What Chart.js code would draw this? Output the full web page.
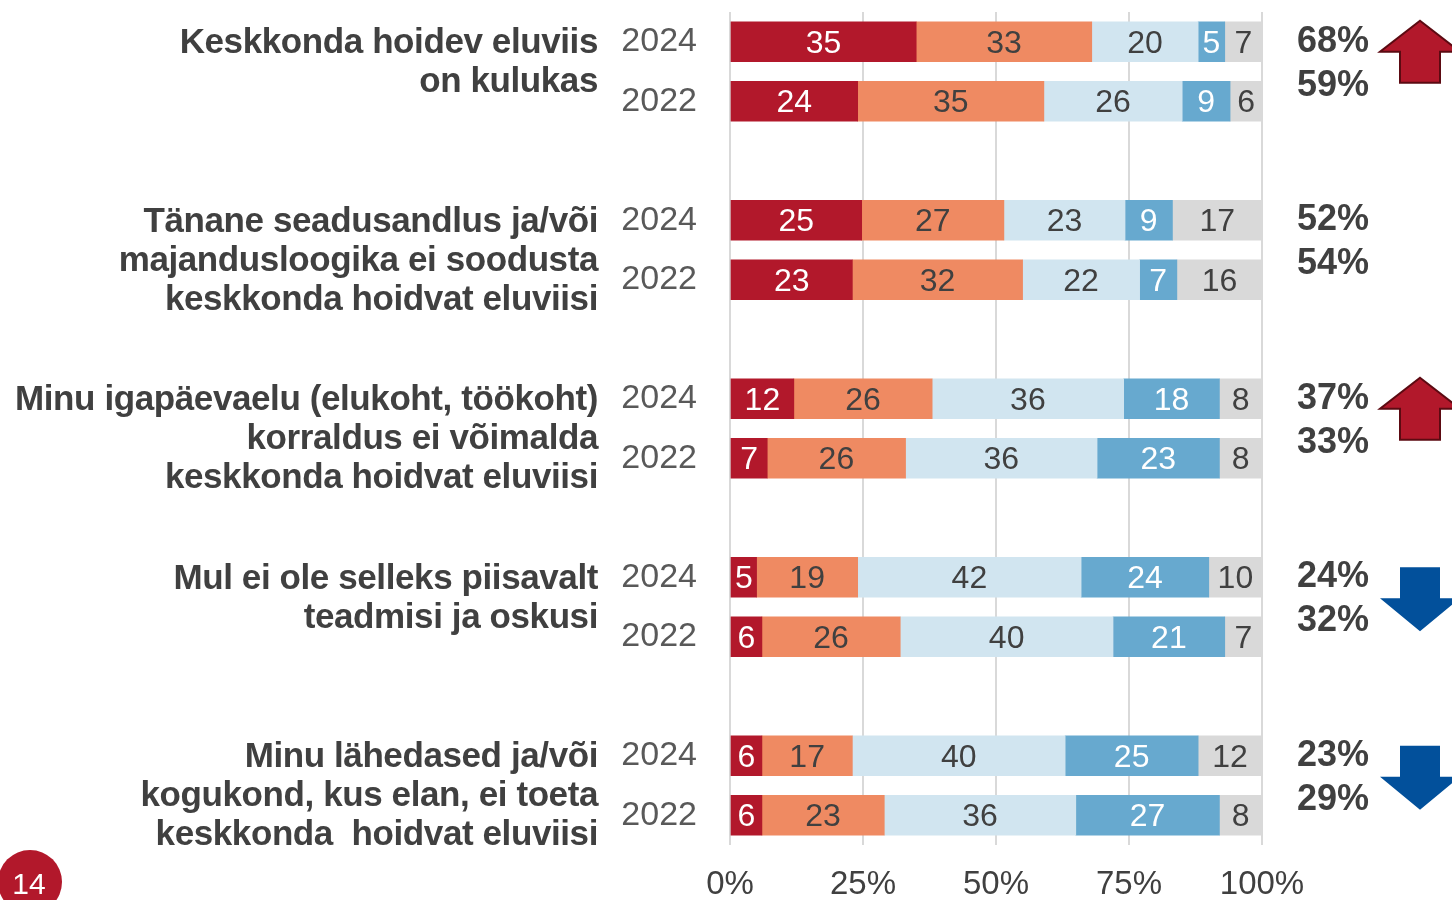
<!DOCTYPE html>
<html>
<head>
<meta charset="utf-8">
<script src="https://cdn.jsdelivr.net/npm/chart.js@4"></script>
<style>
  html, body { margin: 0; padding: 0; background: #fff; }
  #wrap { width: 1452px; height: 900px; position: relative; }
</style>
</head>
<body>
<div id="wrap"><canvas id="chart"></canvas></div>
<script>
// questions (one per group), each split into lines
const questions = [
  ['Keskkonda hoidev eluviis', 'on kulukas'],
  ['Tänane seadusandlus ja/või', 'majandusloogika ei soodusta', 'keskkonda hoidvat eluviisi'],
  ['Minu igapäevaelu (elukoht, töökoht)', 'korraldus ei võimalda', 'keskkonda hoidvat eluviisi'],
  ['Mul ei ole selleks piisavalt', 'teadmisi ja oskusi'],
  ['Minu lähedased ja/või', 'kogukond, kus elan, ei toeta', 'keskkonda  hoidvat eluviisi']
];
const years = ['2024', '2022'];

// answer shares, order: q1 2024, q1 2022, q2 2024, ...
const fullyAgree    = [35, 24, 25, 23, 12, 7, 5, 6, 6, 6];
const ratherAgree   = [33, 35, 27, 32, 26, 26, 19, 26, 17, 23];
const ratherDisagree = [20, 26, 23, 22, 36, 36, 42, 40, 40, 36];
const fullyDisagree = [5, 9, 9, 7, 18, 23, 24, 21, 25, 27];
const dontKnow      = [7, 6, 17, 16, 8, 8, 10, 7, 12, 8];

// agree total shown on the right
const agreeTotal = [68, 59, 52, 54, 37, 33, 24, 32, 23, 29];
const trend = ['up', null, 'up', 'down', 'down'];

const xTicks = [0, 25, 50, 75, 100];
const pageNumber = '14';

const seriesNames = ['Täiesti nõus', 'Pigem nõus', 'Pigem ei ole nõus', 'Üldse ei ole nõus', 'Ei oska öelda'];
const seriesValues = [fullyAgree, ratherAgree, ratherDisagree, fullyDisagree, dontKnow];
const seriesColors = ['#b2182b', '#ef8a62', '#d1e5f0', '#67a9cf', '#d9d9d9'];
const labelColors = ['#ffffff', '#404040', '#404040', '#ffffff', '#404040'];

// slot layout: 2024, 2022, gap, 2024, 2022, gap ...
const slotLabels = [];
const slotIndex = []; // slot -> bar index or null
questions.forEach((q, gi) => {
  years.forEach((y, yi) => { slotLabels.push(y); slotIndex.push(gi * 2 + yi); });
  if (gi < questions.length - 1) { slotLabels.push(''); slotIndex.push(null); }
});
const barSlot = i => slotIndex.indexOf(i);

const totals = fullyAgree.map((_, i) => seriesValues.reduce((s, arr) => s + arr[i], 0));

const datasets = seriesNames.map((name, si) => ({
  label: name,
  data: slotIndex.map(i => i === null ? null : seriesValues[si][i] / totals[i] * 100),
  raw: slotIndex.map(i => i === null ? null : seriesValues[si][i]),
  backgroundColor: seriesColors[si],
  borderWidth: 0,
  barThickness: 40
}));

const FONT = '"Liberation Sans", Arial, sans-serif';

const overlay = {
  id: 'overlay',
  afterDatasetsDraw(chart) {
    const ctx = chart.ctx;
    ctx.save();
    ctx.textAlign = 'center';
    ctx.textBaseline = 'middle';
    ctx.font = '32px ' + FONT;
    chart.data.datasets.forEach((ds, si) => {
      chart.getDatasetMeta(si).data.forEach((el, k) => {
        const v = ds.raw[k];
        if (v === null || v === undefined) return;
        ctx.fillStyle = labelColors[si];
        ctx.fillText(String(v), (el.x + el.base) / 2, el.y + 2);
      });
    });
    ctx.restore();
  },
  afterDraw(chart) {
    const ctx = chart.ctx;
    const y = chart.scales.y;
    ctx.save();
    // question labels
    ctx.fillStyle = '#404040';
    ctx.font = 'bold 35px ' + FONT;
    ctx.letterSpacing = '-0.4px';
    ctx.textAlign = 'right';
    ctx.textBaseline = 'middle';
    questions.forEach((lines, gi) => {
      const y0 = y.getPixelForValue(barSlot(gi * 2));
      lines.forEach((t, li) => ctx.fillText(t, 598, y0 + 2 + li * 39));
    });
    // agree totals
    ctx.letterSpacing = '0px';
    ctx.font = 'bold 36px ' + FONT;
    ctx.textAlign = 'left';
    questions.forEach((_, gi) => {
      const y0 = y.getPixelForValue(barSlot(gi * 2));
      ctx.fillText(agreeTotal[gi * 2] + '%', 1297, y0);
      ctx.fillText(agreeTotal[gi * 2 + 1] + '%', 1297, y0 + 44);
    });
    // arrows
    const cx = 1420;
    trend.forEach((t, gi) => {
      if (!t) return;
      const y0 = y.getPixelForValue(barSlot(gi * 2));
      ctx.beginPath();
      if (t === 'up') {
        ctx.moveTo(cx, y0 - 21);
        ctx.lineTo(cx + 40, y0 + 10);
        ctx.lineTo(cx + 20, y0 + 10);
        ctx.lineTo(cx + 20, y0 + 41);
        ctx.lineTo(cx - 20, y0 + 41);
        ctx.lineTo(cx - 20, y0 + 10);
        ctx.lineTo(cx - 40, y0 + 10);
        ctx.closePath();
        ctx.fillStyle = '#b2182b';
        ctx.strokeStyle = '#5c0a12';
        ctx.lineWidth = 2;
        ctx.fill();
        ctx.stroke();
      } else {
        ctx.moveTo(cx - 20, y0 - 10);
        ctx.lineTo(cx + 20, y0 - 10);
        ctx.lineTo(cx + 20, y0 + 21);
        ctx.lineTo(cx + 40, y0 + 21);
        ctx.lineTo(cx, y0 + 54);
        ctx.lineTo(cx - 40, y0 + 21);
        ctx.lineTo(cx - 20, y0 + 21);
        ctx.closePath();
        ctx.fillStyle = '#02509b';
        ctx.fill();
      }
    });
    // page number badge
    ctx.beginPath();
    ctx.arc(30, 882, 32, 0, Math.PI * 2);
    ctx.fillStyle = '#b2182b';
    ctx.fill();
    ctx.fillStyle = '#ffffff';
    ctx.font = '30px ' + FONT;
    ctx.textAlign = 'center';
    ctx.fillText(pageNumber, 29, 886);
    ctx.restore();
  }
};

new Chart(document.getElementById('chart'), {
  type: 'bar',
  data: { labels: slotLabels, datasets: datasets },
  plugins: [overlay],
  options: {
    indexAxis: 'y',
    responsive: true,
    maintainAspectRatio: false,
    animation: false,
    layout: { padding: { left: 0, right: 190, top: 12, bottom: 0 } },
    plugins: { legend: { display: false }, tooltip: { enabled: false } },
    scales: {
      x: {
        stacked: true,
        min: 0,
        max: 100,
        afterFit: s => { s.height = 55; s.paddingLeft = 0; s.paddingRight = 0; },
        afterBuildTicks: s => { s.ticks = xTicks.map(v => ({ value: v })); },
        ticks: {
          callback: v => v + '%',
          font: { family: FONT, size: 33 },
          color: '#404040',
          padding: 20
        },
        grid: { color: '#d9d9d9', lineWidth: 2, drawTicks: false },
        border: { display: false }
      },
      y: {
        stacked: true,
        afterFit: s => { s.width = 730; s.paddingTop = 0; s.paddingBottom = 0; },
        ticks: {
          autoSkip: false,
          font: { family: FONT, size: 34 },
          color: '#595959',
          padding: 33
        },
        grid: { display: false, drawTicks: false },
        border: { display: false }
      }
    }
  }
});
</script>
</body>
</html>
